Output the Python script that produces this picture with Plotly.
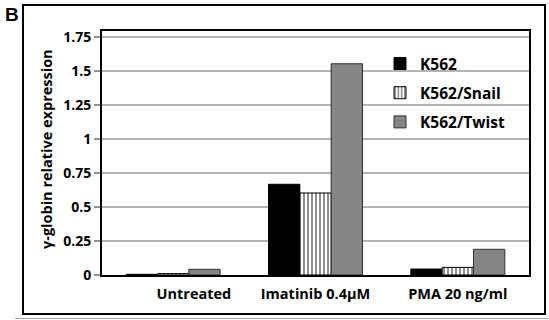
import plotly.graph_objects as go

categories = ["Untreated", "Imatinib 0.4\u03bcM", "PMA 20 ng/ml"]
category_labels = ["\u00a0" * 11 + "Untreated", "Imatinib 0.4\u03bcM", "PMA 20 ng/ml"]
k562 = [0.005, 0.667, 0.044]
k562_snail = [0.01, 0.603, 0.056]
k562_twist = [0.042, 1.553, 0.189]
y_ticks = [0, 0.25, 0.5, 0.75, 1, 1.25, 1.5, 1.75]
y_tick_labels = ["0", "0.25", "0.5", "0.75", "1", "1.25", "1.5", "1.75"]

FONT = "Open Sans"
W, H = 549, 320
L, R, T, B = 102, 20, 31, 45
pw, ph = W - L - R, H - T - B

def px2x(px):
    return (px - L) / pw

def py2y(py):
    return (H - B - py) / ph

fig = go.Figure()
fig.add_trace(go.Bar(name="K562", x=categories, y=k562,
                     marker=dict(color="black", line=dict(color="black", width=1)),
                     legendgroup="a"))
fig.add_trace(go.Bar(name="K562/Snail", x=categories, y=k562_snail,
                     marker=dict(color="white", line=dict(color="black", width=1),
                                 pattern=dict(shape="|", fgcolor="black", bgcolor="white",
                                              size=4, solidity=0.45)),
                     legendgroup="b"))
fig.add_trace(go.Bar(name="K562/Twist", x=categories, y=k562_twist,
                     marker=dict(color="#858585", line=dict(color="#303030", width=1)),
                     legendgroup="c"))

fig.update_layout(
    width=W, height=H,
    margin=dict(l=L, r=R, t=T, b=B, pad=0),
    paper_bgcolor="white", plot_bgcolor="white",
    barmode="group", bargap=0.34, bargroupgap=0,
    font=dict(family=FONT, color="black", size=14),
    legend=dict(x=px2x(380), y=py2y(47), xanchor="left", yanchor="top",
                bgcolor="rgba(0,0,0,0)", tracegroupgap=6,
                font=dict(family=FONT, size=15.5, color="black", weight="bold")),
    xaxis=dict(showgrid=False, ticks="", showline=True, linecolor="black", linewidth=2,
               mirror=True, tickvals=categories, ticktext=category_labels,
               ticklabelstandoff=5,
               tickfont=dict(family=FONT, size=14.5, color="black", weight="bold")),
    yaxis=dict(range=[0, 1.794], tickvals=y_ticks, ticktext=y_tick_labels,
               showgrid=True, gridcolor="#b4b4b4", gridwidth=1.5,
               ticks="outside", ticklen=6, tickcolor="#909090", tickwidth=1.5,
               showline=True, linecolor="black", linewidth=2, mirror=True,
               zeroline=False,
               tickfont=dict(family=FONT, size=14, color="black", weight="bold")),
    showlegend=True,
)

fig.add_annotation(text="\u03b3-globin relative expression", xref="paper", yref="paper",
                   x=px2x(46), y=py2y(149), textangle=-90, showarrow=False,
                   xanchor="center", yanchor="middle",
                   font=dict(family=FONT, size=14.5, color="black", weight="bold"))
fig.add_annotation(text="B", xref="paper", yref="paper", x=px2x(3), y=py2y(15),
                   showarrow=False, xanchor="left", yanchor="middle",
                   font=dict(family="Liberation Sans", size=19, color="black", weight="bold"))

fig.add_shape(type="rect", xref="paper", yref="paper",
              x0=px2x(23), x1=px2x(545), y0=py2y(314), y1=py2y(5),
              line=dict(color="black", width=2), layer="below")
fig.add_shape(type="line", xref="paper", yref="paper",
              x0=px2x(15), x1=px2x(549), y0=py2y(318.5), y1=py2y(318.5),
              line=dict(color="#a0a0a0", width=1))

fig.write_html("out.html", config={"displayModeBar": False},
               post_script="document.body.style.margin='0';document.body.style.overflow='hidden';")
